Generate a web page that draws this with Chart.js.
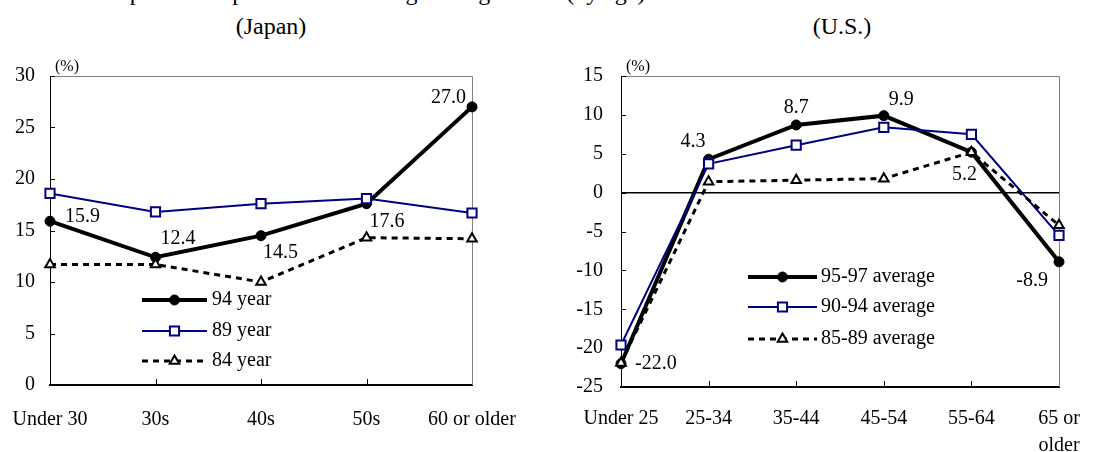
<!DOCTYPE html>
<html>
<head>
<meta charset="utf-8">
<script src="https://cdn.jsdelivr.net/npm/chart.js@4.4.0/dist/chart.umd.min.js"></script>
<style>
  html, body { margin: 0; padding: 0; background: #fff; overflow: hidden; }
  #wrap { position: relative; width: 1102px; height: 452px; font-family: "Liberation Serif", "Times New Roman", serif; color: #000; }
  .ttl { position: absolute; font-size: 24px; line-height: 24px; white-space: nowrap; }
  canvas { position: absolute; top: 0; }
</style>
</head>
<body>
<div id="wrap">
  <div class="ttl" style="left:83px; top:-20px;">Comparison of personal net savings change ratios (by age)</div>
  <div class="ttl" style="left:171px; top:14px; width:200px; text-align:center;">(Japan)</div>
  <div class="ttl" style="left:742px; top:14px; width:200px; text-align:center;">(U.S.)</div>
  <canvas id="jp" width="551" height="452" style="left:0;"></canvas>
  <canvas id="us" width="551" height="452" style="left:551px;"></canvas>
</div>
<script>
// Japan
const jpCats = ["Under 30", "30s", "40s", "50s", "60 or older"];
const jpNames = ["94 year", "89 year", "84 year"];
const jp94 = [15.9, 12.4, 14.5, 17.6, 27.0];
const jp89 = [18.6, 16.8, 17.6, 18.1, 16.7];
const jp84 = [11.7, 11.7, 10.0, 14.3, 14.2];
const jpTicks = [0, 5, 10, 15, 20, 25, 30];

// U.S.
const usCats = ["Under 25", "25-34", "35-44", "45-54", "55-64", ["65 or", "older"]];
const usNames = ["95-97 average", "90-94 average", "85-89 average"];
const us9597 = [-22.0, 4.3, 8.7, 9.9, 5.2, -8.9];
const us9094 = [-19.6, 3.7, 6.1, 8.4, 7.5, -5.5];
const us8589 = [-21.9, 1.4, 1.6, 1.8, 5.2, -4.2];
const usTicks = [-25, -20, -15, -10, -5, 0, 5, 10, 15];

// where the value labels sit next to their point: [dx, dy, align]
const jpLabelPos = [[15, -4, "left"], [5, -19, "left"], [2, 17, "left"], [3, 18, "left"], [-6, -9, "right"]];
const usLabelPos = [[14, 0, "left"], [-3, -17, "right"], [0, -17, "center"], [5, -16, "left"], [-7, 23, "center"], [-11, 19, "right"]];

const FONT = "'Liberation Serif'";
const NAVY = "#000080";

function makeSets(names, a, b, c) {
    return [
        { label: names[0], data: a, order: 3, borderColor: "#000", borderWidth: 4,
          pointStyle: "circle", pointRadius: 5, pointBackgroundColor: "#000", pointBorderColor: "#000", pointBorderWidth: 1 },
        { label: names[1], data: b, order: 2, borderColor: NAVY, borderWidth: 2,
          pointStyle: "rect", pointRadius: 6.5, pointBackgroundColor: "#fff", pointBorderColor: NAVY, pointBorderWidth: 2 },
        { label: names[2], data: c, order: 1, borderColor: "#000", borderWidth: 3, borderDash: [6, 5],
          pointStyle: "triangle", pointRadius: 5.5, pointBackgroundColor: "#fff", pointBorderColor: "#000", pointBorderWidth: 2 }
    ].map(d => Object.assign(d, { tension: 0, clip: false, fill: false }));
}

// grey frame, inward ticks and the (%) unit
const framePlugin = {
    id: "frame",
    beforeDatasetsDraw(chart) {
        const { ctx, chartArea: a } = chart;
        const xs = chart.scales.x, ys = chart.scales.y;
        ctx.save();
        ctx.strokeStyle = "#808080";
        ctx.lineWidth = 1;
        ctx.beginPath();
        ctx.moveTo(a.left, a.top + 0.5);
        ctx.lineTo(a.right + 0.5, a.top + 0.5);
        ctx.lineTo(a.right + 0.5, a.bottom);
        ctx.stroke();

        ctx.strokeStyle = "#000";
        ys.ticks.forEach((t, i) => {
            const py = Math.round(ys.getPixelForTick(i)) + 0.5;
            ctx.beginPath();
            ctx.moveTo(a.left, py);
            ctx.lineTo(a.left + 5, py);
            ctx.stroke();
        });
        xs.ticks.forEach((t, i) => {
            if (i === 0 || i === xs.ticks.length - 1) return;
            const px = Math.round(xs.getPixelForTick(i)) + 0.5;
            ctx.beginPath();
            ctx.moveTo(px, a.bottom);
            ctx.lineTo(px, a.bottom - 6);
            ctx.stroke();
        });

        ctx.fillStyle = "#000";
        ctx.font = "16px " + FONT;
        ctx.textAlign = "left";
        ctx.textBaseline = "middle";
        ctx.fillText("(%)", a.left + 5, a.top - 9);
        ctx.restore();
    }
};

function legendPlugin(lg) {
    return {
        id: "lg",
        afterDatasetsDraw(chart) {
            const ctx = chart.ctx;
            chart.data.datasets.forEach((ds, i) => {
                const y = lg.ys[i];
                ctx.save();
                ctx.strokeStyle = ds.borderColor;
                ctx.lineWidth = ds.borderWidth;
                ctx.setLineDash(ds.borderDash || []);
                ctx.beginPath();
                ctx.moveTo(lg.x0, y);
                ctx.lineTo(lg.x1, y);
                ctx.stroke();
                ctx.setLineDash([]);
                ctx.fillStyle = ds.pointBackgroundColor;
                ctx.strokeStyle = ds.pointBorderColor;
                ctx.lineWidth = ds.pointBorderWidth;
                Chart.helpers.drawPoint(ctx, {
                    pointStyle: ds.pointStyle, radius: ds.pointRadius, rotation: 0, borderWidth: ds.pointBorderWidth
                }, (lg.x0 + lg.x1) / 2, y);
                ctx.fillStyle = "#000";
                ctx.font = "20px " + FONT;
                ctx.textAlign = "left";
                ctx.textBaseline = "middle";
                ctx.fillText(ds.label, lg.tx, y);
                ctx.restore();
            });
        }
    };
}

function valuePlugin(pos) {
    return {
        id: "vals",
        afterDatasetsDraw(chart) {
            const ctx = chart.ctx;
            const vals = chart.data.datasets[0].data;
            const meta = chart.getDatasetMeta(0);
            ctx.save();
            ctx.fillStyle = "#000";
            ctx.font = "20px " + FONT;
            ctx.textBaseline = "middle";
            meta.data.forEach((pt, i) => {
                const p = pos[i];
                ctx.textAlign = p[2];
                ctx.fillText(vals[i].toFixed(1), pt.x + p[0], pt.y + p[1]);
            });
            ctx.restore();
        }
    };
}

function buildChart(id, cfg) {
    return new Chart(document.getElementById(id), {
        type: "line",
        data: { labels: cfg.cats, datasets: cfg.sets },
        options: {
            responsive: false,
            animation: false,
            layout: { padding: { left: 0, top: 76, right: cfg.padRight, bottom: 0 } },
            plugins: { legend: { display: false }, tooltip: { enabled: false }, title: { display: false } },
            scales: {
                x: {
                    offset: false,
                    grid: { display: false, drawTicks: false },
                    border: { display: true, color: "#000", width: 2 },
                    ticks: { color: "#000", font: { family: FONT, size: 20, lineHeight: cfg.xLine }, padding: cfg.xPad, maxRotation: 0, autoSkip: false },
                    afterFit: s => { s.height = cfg.xHeight; }
                },
                y: {
                    min: cfg.ticks[0],
                    max: cfg.ticks[cfg.ticks.length - 1],
                    grid: {
                        drawTicks: false,
                        color: c => (cfg.zeroLine && c.tick && c.tick.value === 0) ? "#000" : "rgba(0,0,0,0)",
                        lineWidth: c => (c.tick && c.tick.value === 0) ? 1.5 : 0
                    },
                    border: { display: true, color: "#000", width: 1 },
                    ticks: { color: "#000", font: { family: FONT, size: 20 }, padding: cfg.yPad },
                    afterBuildTicks: s => { s.ticks = cfg.ticks.map(v => ({ value: v })); },
                    afterFit: s => { s.width = cfg.yWidth; }
                }
            }
        },
        plugins: [framePlugin, legendPlugin(cfg.legend), valuePlugin(cfg.labelPos)]
    });
}

function drawAll() {
    Chart.defaults.font.family = FONT;
    buildChart("jp", {
        cats: jpCats,
        sets: makeSets(jpNames, jp94, jp89, jp84),
        ticks: jpTicks,
        padRight: 79, xHeight: 67, yWidth: 50, xPad: 10, xLine: 2.45, yPad: 15, zeroLine: false,
        legend: { x0: 142, x1: 207, tx: 212, ys: [300, 331, 361] },
        labelPos: jpLabelPos
    });

    buildChart("us", {
        cats: usCats,
        sets: makeSets(usNames, us9597, us9094, us8589),
        ticks: usTicks,
        padRight: 43, xHeight: 65, yWidth: 70, xPad: 18, xLine: 1.35, yPad: 18, zeroLine: true,
        legend: { x0: 197, x1: 266, tx: 270, ys: [277, 307, 339] },
        labelPos: usLabelPos
    });
}

document.fonts.load("20px 'Liberation Serif'").then(drawAll, drawAll);
</script>
</body>
</html>
